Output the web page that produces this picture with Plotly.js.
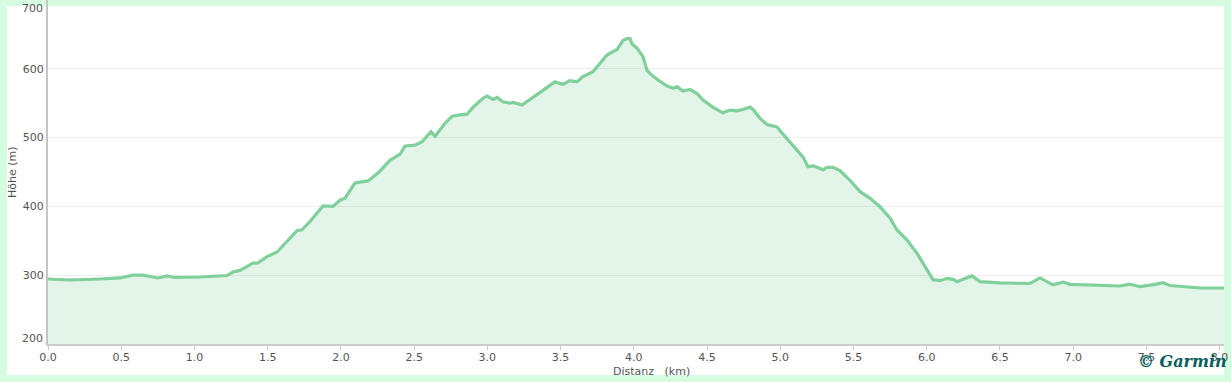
<!DOCTYPE html>
<html>
<head>
<meta charset="utf-8">
<script src="https://cdn.plot.ly/plotly-3.0.1.min.js"></script>
<style>html,body{margin:0;padding:0;background:#d5fbe0;}#chart{width:1231px;height:382px;}</style>
</head>
<body>
<div id="chart"></div>
<script>
const distKm = [0.000,0.150,0.355,0.492,0.580,0.649,0.751,0.813,0.867,1.038,1.222,1.263,1.311,1.400,1.434,1.496,1.564,1.700,1.734,1.789,1.878,1.946,1.994,2.028,2.096,2.185,2.253,2.335,2.404,2.438,2.506,2.554,2.615,2.643,2.711,2.759,2.813,2.861,2.902,2.970,2.998,3.039,3.066,3.107,3.155,3.175,3.237,3.291,3.359,3.428,3.462,3.517,3.564,3.612,3.653,3.721,3.769,3.817,3.858,3.885,3.926,3.954,3.974,3.988,4.022,4.063,4.090,4.111,4.159,4.227,4.268,4.295,4.336,4.384,4.432,4.473,4.541,4.589,4.609,4.657,4.705,4.746,4.793,4.814,4.862,4.909,4.950,4.978,5.019,5.087,5.155,5.189,5.224,5.271,5.292,5.319,5.360,5.408,5.476,5.545,5.613,5.681,5.750,5.797,5.866,5.934,6.002,6.043,6.091,6.139,6.180,6.207,6.248,6.309,6.364,6.500,6.705,6.774,6.862,6.931,6.979,7.183,7.320,7.388,7.456,7.559,7.613,7.661,7.798,7.866,8.030];
const elevM = [294.5,293,294.5,296,300,300,296,299,296.7,297.4,299.5,304.6,307,317.5,318,327,333.7,364.7,366,378,400.6,400,409,412,434,437,448.5,467,476,487.8,489,494,508.6,502,520.7,531,533,534,544,557,560.5,555.6,558.5,552,550,551,547.4,555.6,566.7,576.5,581,577.5,582.7,581,588.6,595.8,608,620,625,628,641,644,644,636,630,617.6,598,593,584.7,575,571.6,574,567.7,570,564,554.6,544,538.7,536,540,539,541,544.5,541,528,519,517,515.5,505,489,472,457.7,459,455,453,456.8,456.8,452,438,421.4,411.7,399.6,382.7,365.7,351,331.8,306.6,293.5,292,295.5,294,290.6,294,299,290.6,288.7,288,296,286,290,286.7,285,284.3,287,283.3,286.7,289,285,283.3,281.4,281.4];
const xTickVals = [0,0.5,1,1.5,2,2.5,3,3.5,4,4.5,5,5.5,6,6.5,7,7.5,8];
const xTickText = ["0.0","0.5","1.0","1.5","2.0","2.5","3.0","3.5","4.0","4.5","5.0","5.5","6.0","6.5","7.0","7.5","8.0"];
const yTickVals = [300,400,500,600];
const yTickText = ["300","400","500","600"];
const yEdgeLabels = ["700","200"];

const tickFont = {family: "DejaVu Sans, Verdana, sans-serif", size: 11, color: "#555555"};

const trace = {
  x: distKm, y: elevM, type: "scatter", mode: "lines",
  line: {color: "#80d09c", width: 3.2},
  fill: "tozeroy", fillcolor: "rgba(128,208,156,0.22)",
  hoverinfo: "skip"
};

const layout = {
  width: 1231, height: 382,
  margin: {l: 48, r: 7, t: 0, b: 38, pad: 0},
  paper_bgcolor: "#d5fbe0",
  plot_bgcolor: "rgba(0,0,0,0)",
  showlegend: false,
  xaxis: {
    range: [0, 8.03], tickvals: xTickVals, ticktext: xTickText,
    showgrid: false, zeroline: false,
    showline: true, linecolor: "#cccccc", linewidth: 2,
    ticks: "outside", ticklen: 4, tickcolor: "#cccccc", tickwidth: 1,
    ticklabelstandoff: -2,
    tickfont: tickFont
  },
  yaxis: {
    range: [200, 700], tickvals: yTickVals, ticktext: yTickText,
    showgrid: true, gridcolor: "#eeeeee", gridwidth: 1, zeroline: false,
    showline: true, linecolor: "#c4c4c4", linewidth: 2,
    ticks: "", tickfont: tickFont
  },
  shapes: [
    {type: "rect", xref: "paper", yref: "paper", x0: -0.0349, x1: 1.0, y0: -0.0901, y1: 0.9826,
     fillcolor: "#ffffff", line: {width: 0}, layer: "below"}
  ],
  annotations: [
    {xref: "paper", yref: "paper", x: -0.0026, y: 0.9767, xanchor: "right", yanchor: "middle",
     text: yEdgeLabels[0], showarrow: false, font: tickFont},
    {xref: "paper", yref: "paper", x: -0.0026, y: 0.0174, xanchor: "right", yanchor: "middle",
     text: yEdgeLabels[1], showarrow: false, font: tickFont},
    {xref: "paper", yref: "paper", x: 0.5128, y: -0.0785, xanchor: "center", yanchor: "middle",
     text: "Distanz\u00a0\u00a0\u00a0(km)", showarrow: false, font: tickFont},
    {xref: "paper", yref: "paper", x: -0.0306, y: 0.5, xanchor: "center", yanchor: "middle",
     text: "Höhe (m)", textangle: -90, showarrow: false, font: tickFont},
    {xref: "paper", yref: "paper", x: 0.965, y: -0.0523, xanchor: "center", yanchor: "middle",
     text: "© Garmin", showarrow: false,
     font: {family: "DejaVu Serif, Liberation Serif, serif", size: 16, color: "#0b5e5e", weight: "bold", style: "italic"}}
  ]
};

Plotly.newPlot("chart", [trace], layout, {displayModeBar: false, staticPlot: true});
</script>
</body>
</html>
